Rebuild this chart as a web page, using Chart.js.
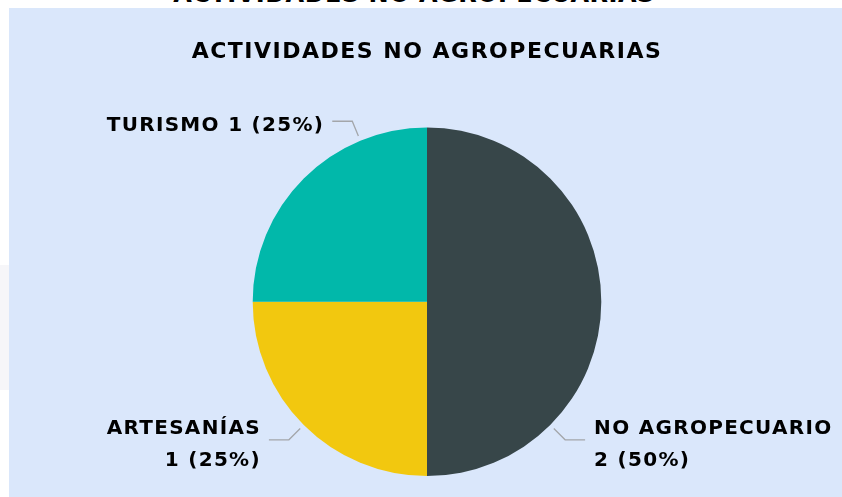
<!DOCTYPE html>
<html>
<head>
<meta charset="utf-8">
<script src="https://cdn.jsdelivr.net/npm/chart.js@4"></script>
<style>
  body { margin: 0; background: #ffffff; width: 842px; height: 497px; overflow: hidden; position: relative; }
  #tituloCortado {
    position: absolute; left: 0; width: 842px; top: -18px; text-align: center;
    font: bold 24px "DejaVu Sans"; letter-spacing: 0.5px; line-height: 24px; color: #000;
    padding-right: 14px; box-sizing: border-box;
  }
  #sombra { position: absolute; left: 0; top: 265px; width: 9px; height: 125px; background: #f6f6f9; }
  #caja { position: absolute; left: 9px; top: 8px; width: 833px; height: 489px; background: #dae7fb; }
</style>
</head>
<body>
<div id="tituloCortado">ACTIVIDADES NO AGROPECUARIAS</div>
<div id="sombra"></div>
<div id="caja"><canvas id="graf"></canvas></div>
<script>
//---------------------------------------------------------------------------
//                         DATOS

const tituloGrafico = 'ACTIVIDADES NO AGROPECUARIAS';
const categorias = ['NO AGROPECUARIO', 'ARTESANÍAS', 'TURISMO'];
const valores = [2, 1, 1];
const colores = ['#374649', '#F2C80F', '#01B8AA'];

document.getElementById('tituloCortado').textContent = tituloGrafico;

//---------------------------------------------------------------------------
//                  ETIQUETAS EXTERNAS CON LÍNEA GUÍA

const espaciadoTitulo = {
    id: 'espaciadoTitulo',
    beforeDraw(chart) {
        chart.ctx.letterSpacing = '1.5px';
    }
};

const etiquetasExternas = {
    id: 'etiquetasExternas',
    afterDatasetsDraw(chart, args, opts) {
        const ctx = chart.ctx;
        const meta = chart.getDatasetMeta(0);
        const datos = chart.data.datasets[0].data;
        const total = datos.reduce((a, b) => a + b, 0);
        ctx.save();
        ctx.font = opts.font;
        ctx.letterSpacing = opts.espaciado;
        meta.data.forEach((arco, i) => {
            const p = arco.getProps(['x', 'y', 'startAngle', 'endAngle', 'outerRadius'], true);
            const ang = p.startAngle + (p.endAngle - p.startAngle) * opts.posicion[i];
            const dx = Math.cos(ang), dy = Math.sin(ang);
            const lado = dx >= 0 ? 1 : -1;
            const x0 = p.x + dx * (p.outerRadius + opts.separacion);
            const y0 = p.y + dy * (p.outerRadius + opts.separacion);
            const x1 = x0 + dx * opts.radial;
            const y1 = y0 + dy * opts.radial;
            const x2 = x1 + lado * opts.horizontal;

            ctx.strokeStyle = opts.colorLinea;
            ctx.lineWidth = 1.3;
            ctx.beginPath();
            ctx.moveTo(x0, y0);
            ctx.lineTo(x1, y1);
            ctx.lineTo(x2, y1);
            ctx.stroke();

            const pct = Math.round(datos[i] / total * 100);
            const valor = datos[i] + ' (' + pct + '%)';
            const tx = x2 + lado * opts.hueco;
            let lineas = [chart.data.labels[i] + ' ' + valor];
            const ancho = ctx.measureText(lineas[0]).width;
            if ((lado > 0 && tx + ancho > chart.width) || (lado < 0 && tx - ancho < 0)) {
                lineas = [chart.data.labels[i], valor];
            }
            ctx.fillStyle = opts.color;
            ctx.textAlign = lado > 0 ? 'left' : 'right';
            ctx.textBaseline = 'middle';
            const centro = y1 + opts.desplazamiento;
            const inicio = centro - (lineas.length - 1) * opts.interlineado / 2;
            lineas.forEach((t, k) => {
                ctx.fillText(t, tx + (lado < 0 ? 1 : 0), inicio + k * opts.interlineado);
            });
        });
        ctx.restore();
    }
};

//---------------------------------------------------------------------------
//                          GRÁFICO

const grafico = document.getElementById('graf');
const graf = new Chart(grafico, {
    type: 'pie',
    data: {
        labels: categorias,
        datasets: [{
            data: valores,
            backgroundColor: colores,
            borderWidth: 0
        }]
    },
    options: {
        responsive: true,
        maintainAspectRatio: false,
        animation: false,
        layout: {
            padding: {
                left: 3,
                bottom: 21
            }
        },
        plugins: {
            legend: { display: false },
            tooltip: { enabled: false },
            title: {
                display: true,
                text: tituloGrafico,
                color: '#000000',
                font: { family: 'DejaVu Sans', size: 22, weight: 'bold' },
                padding: { top: 31, bottom: 62 }
            },
            etiquetasExternas: {
                font: 'bold 20px "DejaVu Sans"',
                espaciado: '1.3px',
                color: '#000000',
                colorLinea: '#a3a6aa',
                posicion: [0.75, 0.5, 0.75],
                separacion: 5,
                radial: 16,
                horizontal: 20,
                hueco: 9,
                desplazamiento: 5,
                interlineado: 32
            }
        }
    },
    plugins: [espaciadoTitulo, etiquetasExternas]
});
</script>
</body>
</html>
